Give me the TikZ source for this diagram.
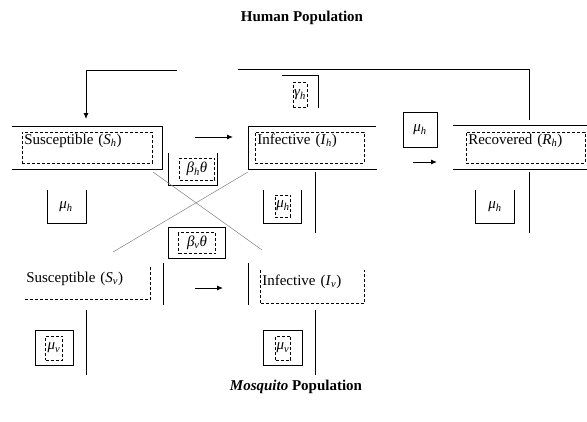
\documentclass[tikz,border=0pt]{standalone}
\usepackage{fontspec}
\setmainfont{Liberation Serif}
\usetikzlibrary{positioning,arrows.meta}
\newcommand{\ModelFontSize}{15}
\newcommand{\vsub}[2]{\textit{#1}\textsubscript{\textit{#2}}}

\tikzset{
	wall/.style={line width=0.9pt},
	flow/.style={line width=0.9pt,-{Latex[length=6pt,width=5pt]}},
	cross/.style={gray,line width=0.5pt},
	comp/.style={densely dashed,line width=0.6pt,anchor=north west,inner sep=2pt,align=left,text height=10pt},
	ratebox/.style={draw,densely dashed,line width=0.6pt,inner sep=1pt},
	rate/.style={inner sep=1pt},
	title/.style={font=\fontsize{\ModelFontSize}{17}\selectfont\bfseries},
}

\begin{document}
\begin{tikzpicture}[x=1pt,y=-1pt,font=\fontsize{\ModelFontSize}{17}\selectfont]
		\useasboundingbox (0,0) rectangle (587,421);
		% titles
		\node[title] (humant) at (302,18) {Human Population};
		\node[title] (mosqt) at (296,387) {\textit{Mosquito} Population};

		% human compartments
		\node[comp,draw,text width=126,text depth=17] (sh) at (22,132) {Susceptible (\vsub{S}{h})};
		\node[comp,draw,text width=105,text depth=17] (ih) at (255,132) {Infective (\vsub{I}{h})};
		\node[comp,draw,text width=115,text depth=17] (rh) at (466,132) {Recovered (\vsub{R}{h})};
		\draw[wall] (12,126) -- (162,126) -- (162,169) -- (12,169);
		\draw[wall] (376,126) -- (248,126) -- (248,169) -- (377,169);
		\draw[wall] (453,125) -- (587,125);
		\draw[wall] (453,169) -- (587,169);

		% mosquito compartments
		\node[comp,text width=122,text height=13,text depth=15] (sv) at (24,267) {Susceptible (\vsub{S}{v})};
		\node[comp,text width=100,text height=13,text depth=16] (iv) at (260,270) {Infective (\vsub{I}{v})};
		\draw[densely dashed,line width=0.6pt] (sv.north east) -- (sv.south east) -- (sv.south west);
		\draw[densely dashed,line width=0.6pt] (iv.north west) -- (iv.south west) -- (iv.south east) -- (iv.north east);
		\draw[wall] (163,263) -- (163,305);
		\draw[wall] (248,263) -- (248,305);

		% transfer arrows
		\coordinate (shout) at (195,137);
		\coordinate (ihin) at (233,137);
		\coordinate (ihout) at (413,162);
		\coordinate (rhin) at (437,162);
		\coordinate (svout) at (195,288);
		\coordinate (ivin) at (223,288);
		\draw[flow] (shout) -- (ihin);
		\draw[flow] (ihout) -- (rhin);
		\draw[flow] (svout) -- (ivin);

		% loss of immunity, R back to S
		\coordinate (rhtop) at (529,120);
		\coordinate (fbr) at (529,69);
		\coordinate (fbm) at (238,69);
		\coordinate (fbl) at (177,70);
		\coordinate (fbc) at (86,70);
		\coordinate (shtop) at (86,119);
		\draw[wall] (rhtop) -- (fbr) -- (fbm);
		\draw[flow] (fbl) -- (fbc) -- (shtop);

		% rates
		\draw[wall] (282,75) -- (318,75) -- (318,108);
		\node[ratebox,minimum width=14,minimum height=25] (gh) at (300,95) {\vsub{γ}{h}};
		\draw[wall] (403,112) rectangle (437,147);
		\node[rate] (muhr) at (420,130) {\vsub{μ}{h}};
		\draw[wall] (168,153) -- (168,185) -- (217,185) -- (217,153);
		\node[ratebox,minimum width=35,minimum height=22] (bh) at (197,169) {\vsub{β}{h}\textit{θ}};
		\draw[wall] (168,227) rectangle (225,258);
		\node[ratebox,minimum width=37,minimum height=21] (bv) at (197,243) {\vsub{β}{v}\textit{θ}};

		% deaths
		\draw[wall] (47,190) -- (47,223) -- (86,223) -- (86,190);
		\node[rate] (mush) at (66,207) {\vsub{μ}{h}};
		\draw[wall] (263,190) -- (263,223) -- (301,223) -- (301,190);
		\node[ratebox,minimum width=15,minimum height=22] (muih) at (283,206) {\vsub{μ}{h}};
		\draw[wall] (475,190) -- (475,223) -- (514,223) -- (514,190);
		\node[rate] (murh) at (495,207) {\vsub{μ}{h}};
		\draw[wall] (315,172) -- (315,233);
		\draw[wall] (529,172) -- (529,233);
		\draw[wall] (35,330) rectangle (73,365);
		\node[ratebox,minimum width=17,minimum height=24] (musv) at (54,348) {\vsub{μ}{v}};
		\draw[wall] (263,330) rectangle (302,365);
		\node[ratebox,minimum width=15,minimum height=24] (muiv) at (283,348) {\vsub{μ}{v}};
		\draw[wall] (86,310) -- (86,375);
		\draw[wall] (315,310) -- (315,375);

		% cross infection
		\draw[cross] (153,172) -- (262,250);
		\draw[cross] (248,172) -- (113,252);
\end{tikzpicture}
\end{document}
